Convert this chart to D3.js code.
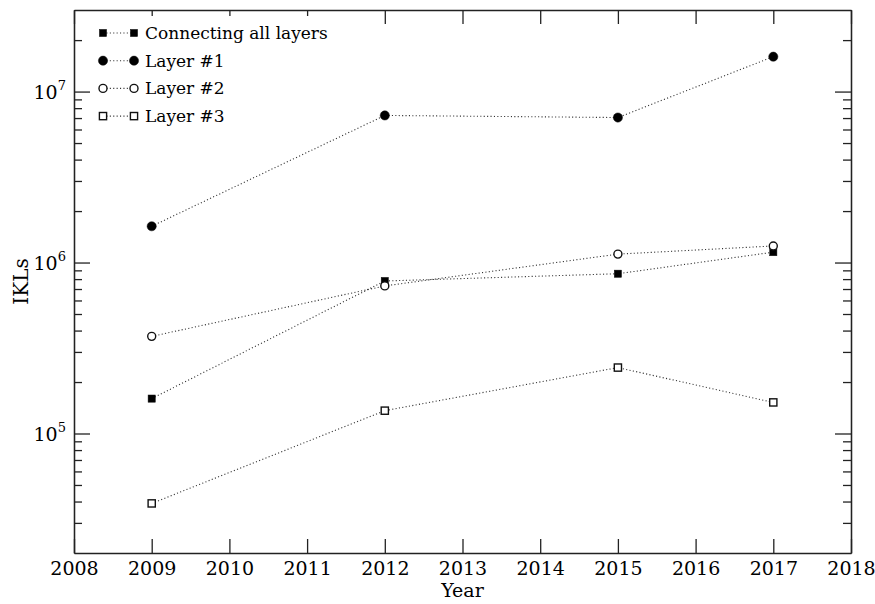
<!DOCTYPE html>
<html>
<head>
<meta charset="utf-8">
<script src="https://cdn.jsdelivr.net/npm/d3@7"></script>
<style>
  body{margin:0;background:#fff;}
  svg text{font-family:'DejaVu Serif','Liberation Serif',serif;fill:#000;}
  .axis path{stroke:#222;stroke-width:1.3;}
  .axis line{stroke:#222;stroke-width:1.3;}
  .series{fill:none;stroke:#333;stroke-width:1.1;stroke-dasharray:1.1,2.3;}
</style>
</head>
<body>
<script>

//data
var years = [2009, 2012, 2015, 2017];
var allLayers = [1.6e5, 7.8e5, 8.6e5, 1.15e6];
var layer1 = [1.63e6, 7.25e6, 7.05e6, 1.6e7];
var layer2 = [3.7e5, 7.3e5, 1.12e6, 1.25e6];
var layer3 = [3.9e4, 1.36e5, 2.43e5, 1.52e5];
var seriesNames = ['Connecting all layers', 'Layer #1', 'Layer #2', 'Layer #3'];
var markerTypes = ['squareFilled', 'circleFilled', 'circleOpen', 'squareOpen'];
var xTickValues = [2008, 2009, 2010, 2011, 2012, 2013, 2014, 2015, 2016, 2017, 2018];
var yDecades = [1e5, 1e6, 1e7];
var yMinor = [3e4, 4e4, 5e4, 6e4, 7e4, 8e4, 9e4,
              2e5, 3e5, 4e5, 5e5, 6e5, 7e5, 8e5, 9e5,
              2e6, 3e6, 4e6, 5e6, 6e6, 7e6, 8e6, 9e6,
              2e7];

var W = 875, H = 604;
var m = {l:74, r:24, t:10, b:51};
var w = W - m.l - m.r, h = H - m.t - m.b;

var svg = d3.select('body').append('svg')
    .attr('width', W)
    .attr('height', H);

var plot = svg.append('g')
    .attr('transform', 'translate(' + m.l + ',' + m.t + ')');

//set scale
var scaleX = d3.scaleLinear()
    .domain([2008, 2018])
    .range([0, w]);

var scaleY = d3.scaleLog()
    .domain([2e4, 3e7])
    .range([h, 0]);

//set axis
var axisX = d3.axisBottom(scaleX)
    .tickValues(xTickValues)
    .tickFormat(d3.format('d'))
    .tickSizeInner(-14)
    .tickSizeOuter(0)
    .tickPadding(9);

var axisTop = d3.axisTop(scaleX)
    .tickValues(xTickValues)
    .tickFormat('')
    .tickSizeInner(-14)
    .tickSizeOuter(0);

var axisYMajor = d3.axisLeft(scaleY)
    .tickValues(yDecades)
    .tickFormat('')
    .tickSizeInner(-16)
    .tickSizeOuter(0);

var axisYMinor = d3.axisLeft(scaleY)
    .tickValues(yMinor)
    .tickFormat('')
    .tickSizeInner(-8)
    .tickSizeOuter(0);

var axisRMajor = d3.axisRight(scaleY)
    .tickValues(yDecades)
    .tickFormat('')
    .tickSizeInner(-16)
    .tickSizeOuter(0);

var axisRMinor = d3.axisRight(scaleY)
    .tickValues(yMinor)
    .tickFormat('')
    .tickSizeInner(-8)
    .tickSizeOuter(0);

plot.append('g').attr('class', 'axis axis-x')
    .attr('transform', 'translate(0,' + h + ')')
    .call(axisX)
    .selectAll('text')
    .style('font-size', '19px')
    .style('fill', '#000');

plot.append('g').attr('class', 'axis axis-top')
    .call(axisTop);

plot.append('g').attr('class', 'axis axis-y')
    .call(axisYMajor);

plot.append('g').attr('class', 'axis axis-y')
    .call(axisYMinor);

plot.append('g').attr('class', 'axis axis-r')
    .attr('transform', 'translate(' + w + ',0)')
    .call(axisRMajor);

plot.append('g').attr('class', 'axis axis-r')
    .attr('transform', 'translate(' + w + ',0)')
    .call(axisRMinor);

//10^n labels
plot.selectAll('.ylab')
    .data(yDecades)
    .enter()
    .append('text')
    .attr('class', 'ylab')
    .attr('x', -8)
    .attr('y', function(d){return scaleY(d) + 7})
    .attr('text-anchor', 'end')
    .style('font-size', '19px')
    .each(function(d){
        var t = d3.select(this);
        t.append('tspan').text('10');
        t.append('tspan')
            .attr('dy', -9)
            .style('font-size', '13px')
            .text(Math.round(Math.log10(d)));
    });

//axis titles
svg.append('text')
    .attr('transform', 'translate(28,' + (m.t + h/2) + ') rotate(-90)')
    .attr('text-anchor', 'middle')
    .style('font-size', '20px')
    .text('IKLs');

svg.append('text')
    .attr('x', m.l + w/2)
    .attr('y', 597)
    .attr('text-anchor', 'middle')
    .style('font-size', '19px')
    .text('Year');

//legend box hides top ticks behind it
var legend = plot.append('g').attr('class', 'legend');

legend.append('rect')
    .attr('x', 18)
    .attr('y', 6)
    .attr('width', 250)
    .attr('height', 112)
    .attr('fill', '#fff');

var series = [allLayers, layer1, layer2, layer3];

var path = d3.line()
    .x(function(d, i){return scaleX(years[i])})
    .y(function(d){return scaleY(d)});

function drawMarker(g, type, x, y){
    if(type == 'squareFilled' || type == 'squareOpen'){
        g.append('rect')
            .attr('x', x - 3.6)
            .attr('y', y - 3.6)
            .attr('width', 7.2)
            .attr('height', 7.2)
            .attr('fill', type == 'squareFilled' ? '#000' : '#fff')
            .attr('stroke', '#111')
            .attr('stroke-width', type == 'squareFilled' ? 0.5 : 1.4);
    } else {
        g.append('circle')
            .attr('cx', x)
            .attr('cy', y)
            .attr('r', type == 'circleFilled' ? 4.6 : 4)
            .attr('fill', type == 'circleFilled' ? '#000' : '#fff')
            .attr('stroke', '#111')
            .attr('stroke-width', type == 'circleFilled' ? 0.5 : 1.4);
    }
}

//draw the series
for(var i = 0; i < series.length; i++){

    plot.append('path')
        .attr('class', 'series')
        .datum(series[i])
        .attr('d', path);

    var g = plot.append('g');
    for(var j = 0; j < years.length; j++){
        drawMarker(g, markerTypes[i], scaleX(years[j]), scaleY(series[i][j]));
    }
}

//legend rows
for(var k = 0; k < seriesNames.length; k++){
    var ly = 23 + k*27.7;
    legend.append('line')
        .attr('class', 'series')
        .attr('x1', 29)
        .attr('x2', 60)
        .attr('y1', ly)
        .attr('y2', ly);
    drawMarker(legend, markerTypes[k], 29, ly);
    drawMarker(legend, markerTypes[k], 60, ly);
    legend.append('text')
        .attr('x', 71)
        .attr('y', ly + 6)
        .style('font-size', '17px')
        .text(seriesNames[k]);
}

</script>
</body>
</html>
